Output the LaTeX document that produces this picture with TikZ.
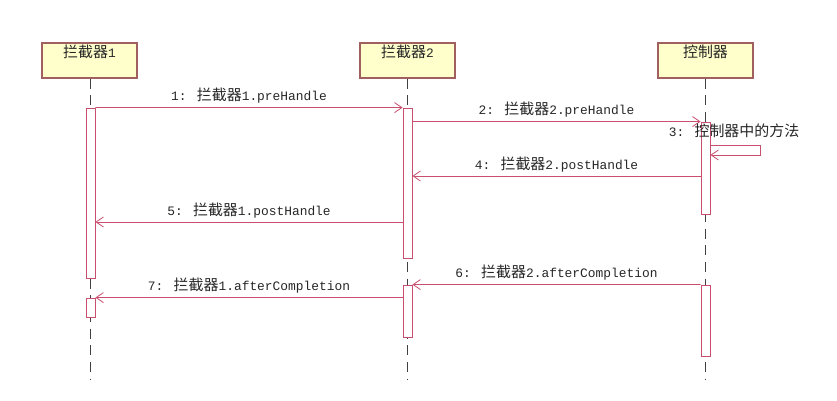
\documentclass[tikz,border=0pt]{standalone}
\usepackage{fontspec}
\setmainfont{Liberation Mono}
\newfontfamily\cjk[Scale=1.16]{Noto Sans CJK SC}
\usetikzlibrary{arrows.meta}
\definecolor{msgred}{HTML}{C8506E}
\definecolor{headline}{HTML}{A06060}
\definecolor{headfill}{HTML}{FFFFCC}
\definecolor{txtgray}{HTML}{262626}
\begin{document}
\begin{tikzpicture}[x=0.03cm, y=-0.03cm, font=\fontsize{11}{13}\selectfont, text=txtgray,
    head/.style={rectangle, draw=headline, fill=headfill, line width=0.9pt, minimum width=2.85cm, minimum height=1.05cm, text height=0.3cm, text depth=0.5cm, inner sep=0pt},
    act/.style={rectangle, draw=msgred, fill=white, line width=0.7pt, minimum width=0.27cm, inner sep=0pt},
    life/.style={draw=black!75, line width=0.9pt, dash pattern=on 0.3cm off 0.2cm},
    msg/.style={draw=msgred, line width=0.7pt, -{Straight Barb[length=0.22cm, width=0.3cm]}}]
    \useasboundingbox (0,0) rectangle (837,401);
    \node[head] (h1) at (89.5,60.5) {{\cjk 拦截器}1};
    \node[head] (h2) at (407.5,60.5) {{\cjk 拦截器}2};
    \node[head] (h3) at (705.5,60.5) {\cjk 控制器};
    \coordinate (e1) at (90.5,380);
    \coordinate (e2) at (407.5,380);
    \coordinate (e3) at (705.5,380);
    \draw[life] (h1.south -| e1) -- (e1);
    \draw[life] (h2.south -| e2) -- (e2);
    \draw[life] (h3.south -| e3) -- (e3);
    \node[act, minimum height=5.1cm] (a1) at (90.5,193) {};
    \node[act, minimum height=0.57cm] (a1b) at (90.5,307.5) {};
    \node[act, minimum height=4.5cm] (a2) at (407.5,183) {};
    \node[act, minimum height=1.56cm] (a2b) at (407.5,311) {};
    \node[act, minimum height=2.76cm] (a3) at (705.5,168) {};
    \node[act, minimum height=2.13cm] (a3b) at (705.5,320.5) {};
    \coordinate (m4) at (0,176);
    \coordinate (m5) at (0,222);
    \coordinate (s3a) at (760,145);
    \coordinate (s3b) at (760,155);
    \draw[msg] (a1.north east) -- node[above] {1: {\cjk 拦截器}1.preHandle} (a2.north west);
    \draw[msg] (a2.east |- a3.north) -- node[above] {2: {\cjk 拦截器}2.preHandle} (a3.north west);
    \draw[msg] (a3.east |- s3a) -- (s3a) -- (s3b) -- (a3.east |- s3b);
    \node (l3) at (734,131) {3: {\cjk 控制器中的方法}};
    \draw[msg] (a3.west |- m4) -- node[above] {4: {\cjk 拦截器}2.postHandle} (a2.east |- m4);
    \draw[msg] (a2.west |- m5) -- node[above] {5: {\cjk 拦截器}1.postHandle} (a1.east |- m5);
    \draw[msg] (a3b.north west) -- node[above] {6: {\cjk 拦截器}2.afterCompletion} (a2b.north east);
    \draw[msg] (a2b.west |- a1b.north) -- node[above] {7: {\cjk 拦截器}1.afterCompletion} (a1b.north east);
\end{tikzpicture}
\end{document}
